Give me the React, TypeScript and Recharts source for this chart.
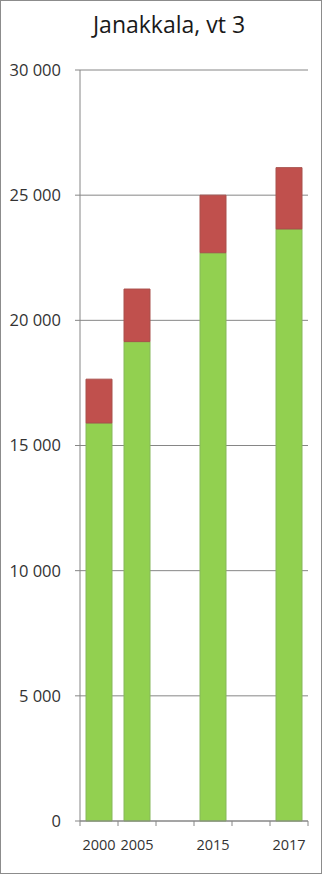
import { Bar, BarChart, CartesianGrid, XAxis, YAxis } from "recharts";

// Janakkala, vt 3 – keskimääräinen vuorokausiliikenne
const YEARS = ["2000", "2005", "", "2015", "", "2017"];
const KEVYET = [15900, 19150, null, 22700, null, 23650];
const RASKAAT = [1750, 2100, null, 2300, null, 2450];
const Y_TICKS = [0, 5000, 10000, 15000, 20000, 25000, 30000];

const AXIS = "#868686";
const TEXT = "#333333";
const FONT = "'Open Sans', sans-serif";
const BAND_HALF = 19;

const rows = YEARS.map((year, i) => ({
  year,
  kevyet: KEVYET[i],
  raskaat: RASKAAT[i]
}));

function formatThousands(value: number) {
  return String(value).replace(/\B(?=(\d{3})+(?!\d))/g, " ");
}

function YearTick(props: any) {
  const { x, y, payload, index } = props;
  const last = index === YEARS.length - 1;
  return (
    <g>
      <line x1={x - BAND_HALF} y1={y} x2={x - BAND_HALF} y2={y + 5} stroke={AXIS} />
      {last && <line x1={x + BAND_HALF} y1={y} x2={x + BAND_HALF} y2={y + 5} stroke={AXIS} />}
      <text x={x} y={y + 29} textAnchor="middle" fontSize={14.5} fill={TEXT} fontFamily={FONT}>
        {payload.value}
      </text>
    </g>
  );
}

export default function App() {
  return (
    <div
      style={{
        position: "fixed",
        left: 0,
        top: 0,
        width: 322,
        height: 874,
        boxSizing: "border-box",
        border: "1px solid #8c8c8c",
        background: "#fff",
        fontFamily: FONT
      }}
    >
      <svg width={322} height={40} style={{ position: "absolute", left: -1, top: -1 }}>
        <text x={169} y={33} textAnchor="middle" fontSize={23} fill="#1a1a1a" fontFamily={FONT}>
          Janakkala, vt 3
        </text>
      </svg>
      <div style={{ position: "absolute", left: -1, top: -1 }}>
        <BarChart
          width={322}
          height={874}
          data={rows}
          margin={{ top: 70, right: 14, bottom: 23, left: 0 }}
        >
          <CartesianGrid stroke={AXIS} vertical={false} />
          <XAxis
            dataKey="year"
            height={30}
            tickLine={false}
            tickSize={0}
            tickMargin={0}
            axisLine={{ stroke: AXIS }}
            interval={0}
            tick={<YearTick />}
          />
          <YAxis
            width={80}
            domain={[0, 30000]}
            ticks={Y_TICKS}
            interval={0}
            tickSize={5}
            tickMargin={14}
            tickLine={{ stroke: AXIS }}
            axisLine={{ stroke: AXIS }}
            tickFormatter={(value) => formatThousands(Number(value))}
            tick={{ fontSize: 16.5, fill: TEXT, fontFamily: FONT }}
          />
          <Bar
            dataKey="kevyet"
            stackId="a"
            barSize={26}
            fill="#92d050"
            stroke="#86b85a"
            isAnimationActive={false}
          />
          <Bar
            dataKey="raskaat"
            stackId="a"
            barSize={26}
            fill="#c0504d"
            stroke="#a9504c"
            isAnimationActive={false}
          />
        </BarChart>
      </div>
    </div>
  );
}
